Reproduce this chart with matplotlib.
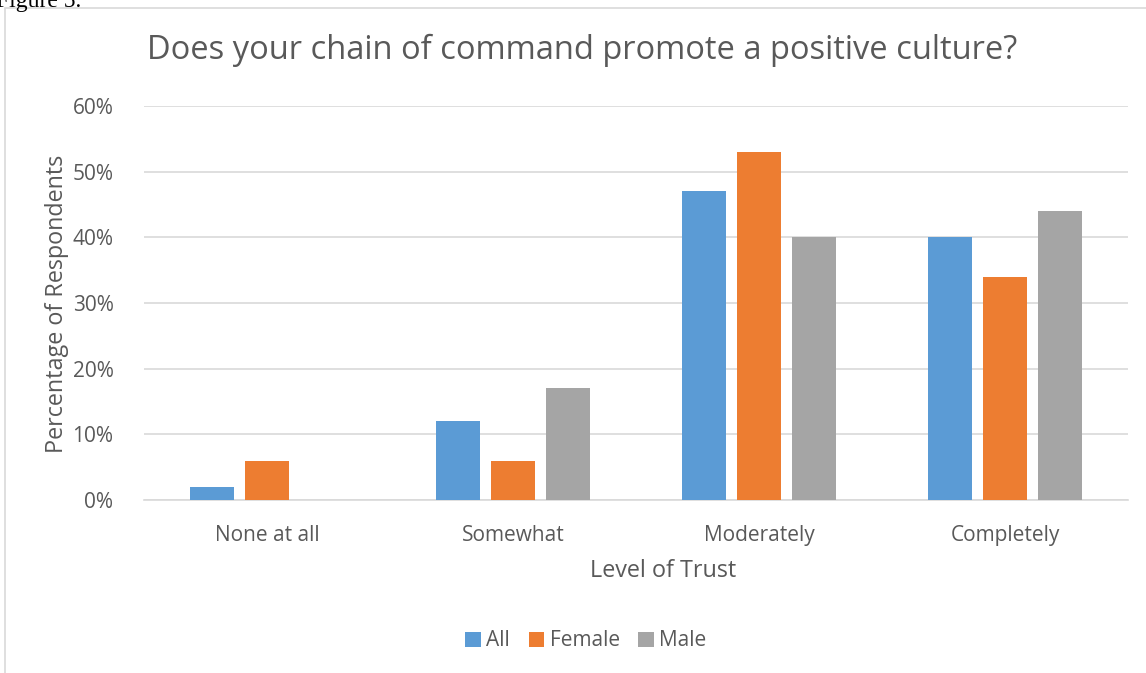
import matplotlib
matplotlib.use("Agg")
import matplotlib.pyplot as plt
import numpy as np
from matplotlib.patches import Rectangle

categories = ["None at all", "Somewhat", "Moderately", "Completely"]
series_names = ["All", "Female", "Male"]
all_vals = [2, 12, 47, 40]
female_vals = [6, 6, 53, 34]
male_vals = [0, 17, 40, 44]
yticks = [0, 10, 20, 30, 40, 50, 60]

colors = ["#5B9BD5", "#ED7D31", "#A5A5A5"]
text_col = "#595959"
plt.rcParams["font.family"] = ["Open Sans", "DejaVu Sans"]

W, H = 1146, 673
fig = plt.figure(figsize=(W / 100, H / 100), dpi=100)

# chart frame (cut off on the right and bottom)
fig.patches.append(Rectangle((5 / W, -0.1), 1.2, (H - 8) / H + 0.1, transform=fig.transFigure,
                             fill=False, edgecolor="#D9D9D9", lw=1.2))
fig.text(-4 / W, 1 - 1 / H, "Figure 5.", family="Liberation Serif", fontsize=17,
         va="center", ha="left", color="black")

ax = fig.add_axes([144 / W, 1 - 500 / H, (1128 - 144) / W, (500 - 106) / H])
x = np.arange(len(categories))
width = 0.175
step = 0.2236
for i, (vals, name) in enumerate(zip([all_vals, female_vals, male_vals], series_names)):
    ax.bar(x + (i - 1) * step, vals, width, color=colors[i], label=name, zorder=3)

ax.set_xlim(-0.5, len(categories) - 0.5)
ax.set_ylim(0, 60)
ax.set_yticks(yticks)
ax.set_yticklabels([f"{v}%" for v in yticks])
ax.set_xticks(x)
ax.set_xticklabels(categories)
ax.tick_params(colors=text_col, labelsize=15, length=0)
ax.tick_params(axis="y", pad=22)
ax.tick_params(axis="x", pad=18)
ax.grid(axis="y", color="#D9D9D9", lw=1.2, zorder=0)
for s in ["top", "right", "left"]:
    ax.spines[s].set_visible(False)
ax.spines["bottom"].set_color("#D9D9D9")
ax.spines["bottom"].set_linewidth(1.2)

# axis titles placed like the original (x title sits a bit right of centre)
fig.text(663 / W, 1 - 571 / H, "Level of Trust", ha="center", va="center",
         fontsize=16.8, color=text_col)
fig.text(57 / W, 1 - 304 / H, "Percentage of Respondents", ha="center", va="center",
         rotation=90, fontsize=16.8, color=text_col)

fig.text(582 / W, 1 - 50 / H, "Does your chain of command promote a positive culture?",
         ha="center", va="center", fontsize=23.5, color=text_col)

ax.legend(loc="center", bbox_to_anchor=(586 / W, 1 - 641 / H), bbox_transform=fig.transFigure,
          ncol=3, frameon=False, fontsize=15, labelcolor=text_col, handlelength=0.75,
          handleheight=0.75, handletextpad=0.25, columnspacing=0.9)

fig.savefig("out.png", dpi=100)
